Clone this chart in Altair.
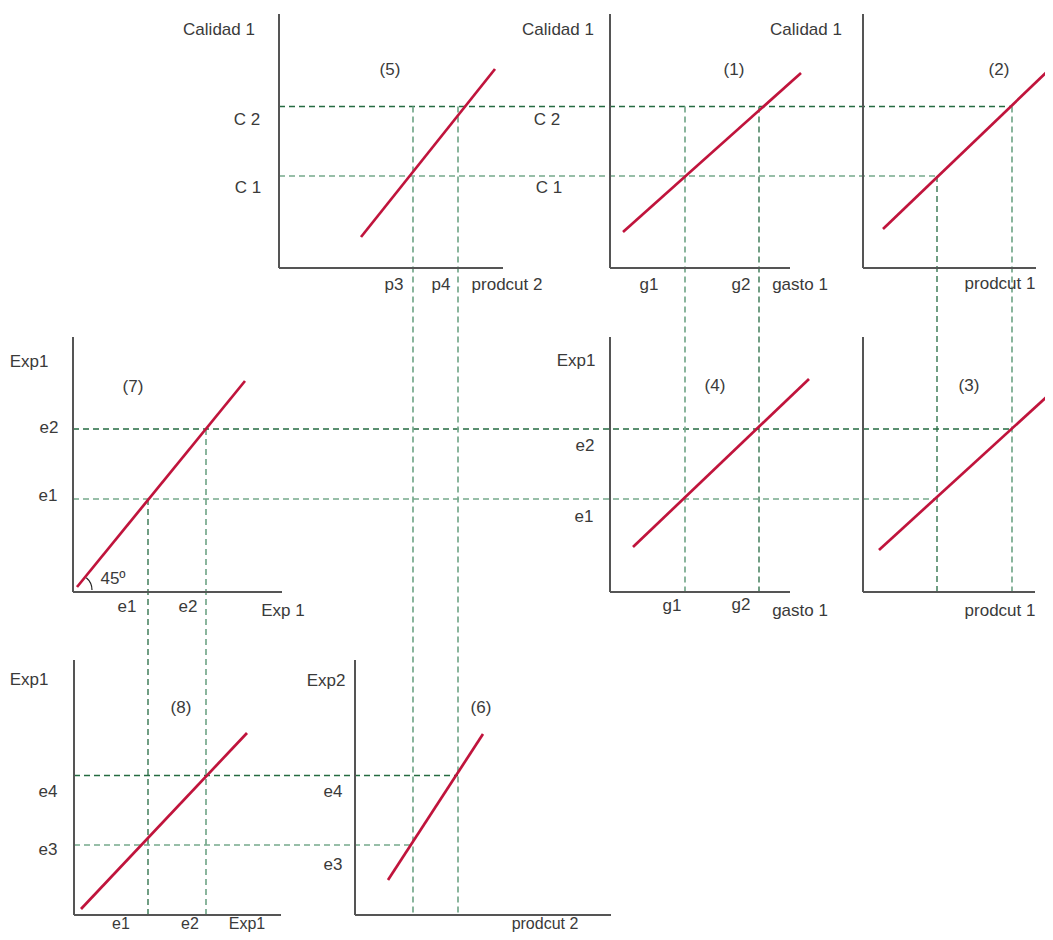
import altair as alt
import pandas as pd

# ---- diagram data (reference-pixel units) ----
# panel axes: (x, y, x2, y2)
axes_seg = [
    (279, 14, 279, 268), (279, 268, 503, 268),
    (610, 14, 610, 268), (610, 268, 790, 268),
    (863, 14, 863, 268), (863, 268, 1036, 268),
    (73, 337, 73, 592), (73, 592, 282, 592),
    (610, 337, 610, 592), (610, 592, 790, 592),
    (863, 337, 863, 592), (863, 592, 1035, 592),
    (74, 660, 74, 915), (74, 915, 281, 915),
    (355, 660, 355, 915), (355, 915, 611, 915),
]
# red relationship lines per panel (5),(1),(2),(7),(4),(3),(8),(6)
red_seg = [
    (361, 237, 495, 69),
    (623, 232, 801, 73),
    (883, 229, 1053, 66),
    (77, 587, 245, 381),
    (633, 547, 809, 379),
    (879, 550, 1053, 391),
    (81, 909, 247, 733),
    (388, 880, 483, 734),
]
# guide lines (dark green)
dark_seg = [
    (279, 106.5, 1012, 106.5),
    (759, 106.5, 759, 592),
    (937, 176, 937, 592),
    (73, 429, 1012, 429),
    (148, 499, 148, 915),
    (74, 775.5, 458, 775.5),
]
# guide lines (light green)
light_seg = [
    (279, 176, 937, 176),
    (413, 106.5, 413, 915),
    (458, 106.5, 458, 915),
    (685, 106.5, 685, 592),
    (1012, 106.5, 1012, 592),
    (73, 499, 937, 499),
    (206, 429, 206, 915),
    (74, 845, 413, 845),
]
labels = [
    ("Calidad 1", 219, 30), ("Calidad 1", 558, 30), ("Calidad 1", 806, 30),
    ("(5)", 390, 70), ("(1)", 734, 70), ("(2)", 999, 70),
    ("C 2", 247, 120), ("C 1", 248, 188), ("C 2", 547, 120), ("C 1", 549, 188),
    ("p3", 394, 285), ("p4", 441, 285), ("prodcut 2", 507, 285),
    ("g1", 649, 285), ("g2", 741, 285), ("gasto 1", 800, 285),
    ("prodcut 1", 1000, 284),
    ("Exp1", 29, 362), ("(7)", 133, 387), ("e2", 49, 428), ("e1", 48, 496),
    ("45º", 113, 579), ("e1", 127, 607), ("e2", 188, 607), ("Exp 1", 283, 611),
    ("Exp1", 576, 361), ("(4)", 715, 386), ("e2", 585, 446), ("e1", 584, 517),
    ("g1", 672, 606), ("g2", 741, 605), ("gasto 1", 800, 611),
    ("(3)", 969, 386), ("prodcut 1", 1000, 611),
    ("Exp1", 29, 680), ("(8)", 181, 708), ("e4", 48, 792), ("e3", 48, 850),
    ("Exp2", 326, 681), ("(6)", 481, 708), ("e4", 333, 792), ("e3", 333, 865),
]
# labels on the bottom edge (partly cut by the frame in the original)
bottom_labels = [
    ("e1", 121, 923.5), ("e2", 190, 923.5), ("Exp1", 247, 923.5),
    ("prodcut 2", 545, 923.5),
]
angle_mark = [(76, 590)]

cols = ["x", "y", "x2", "y2"]
XS = alt.Scale(domain=[8, 1045])
YS = alt.Scale(domain=[932, 8])


def seg_layer(rows, color, width, dash=None):
    df = pd.DataFrame(rows, columns=cols)
    kw = dict(color=color, strokeWidth=width)
    if dash:
        kw["strokeDash"] = dash
    return alt.Chart(df).mark_rule(**kw).encode(
        x=alt.X("x:Q", scale=XS, axis=None),
        y=alt.Y("y:Q", scale=YS, axis=None),
        x2="x2:Q",
        y2="y2:Q",
    )


def text_layer(rows, size):
    return alt.Chart(pd.DataFrame(rows, columns=["t", "x", "y"])).mark_text(
        font="Liberation Sans", fontSize=size, color="#3a3a3a",
        align="center", baseline="middle"
    ).encode(
        x=alt.X("x:Q", scale=XS, axis=None),
        y=alt.Y("y:Q", scale=YS, axis=None),
        text="t:N",
    )


dark = seg_layer(dark_seg, "#256b42", 1.3, [6, 4])
light = seg_layer(light_seg, "#76a98c", 1.7, [6, 4])
red = seg_layer(red_seg, "#c0143c", 2.7)
axes = seg_layer(axes_seg, "#555555", 2)

text = text_layer(labels, 17)
text_bottom = text_layer(bottom_labels, 16)

arc = alt.Chart(pd.DataFrame(angle_mark, columns=["x", "y"])).mark_arc(
    theta=0.70, theta2=1.5708, radius=16.6, radius2=15.4, color="#222222"
).encode(
    x=alt.X("x:Q", scale=XS, axis=None),
    y=alt.Y("y:Q", scale=YS, axis=None),
)

chart = alt.layer(dark, light, red, axes, arc, text, text_bottom).properties(
    width=1037, height=924,
    autosize=alt.AutoSizeParams(type="none"),
    padding=0,
).configure_view(stroke=None)

chart.save("out.html", embed_options={"renderer": "svg", "actions": False})
